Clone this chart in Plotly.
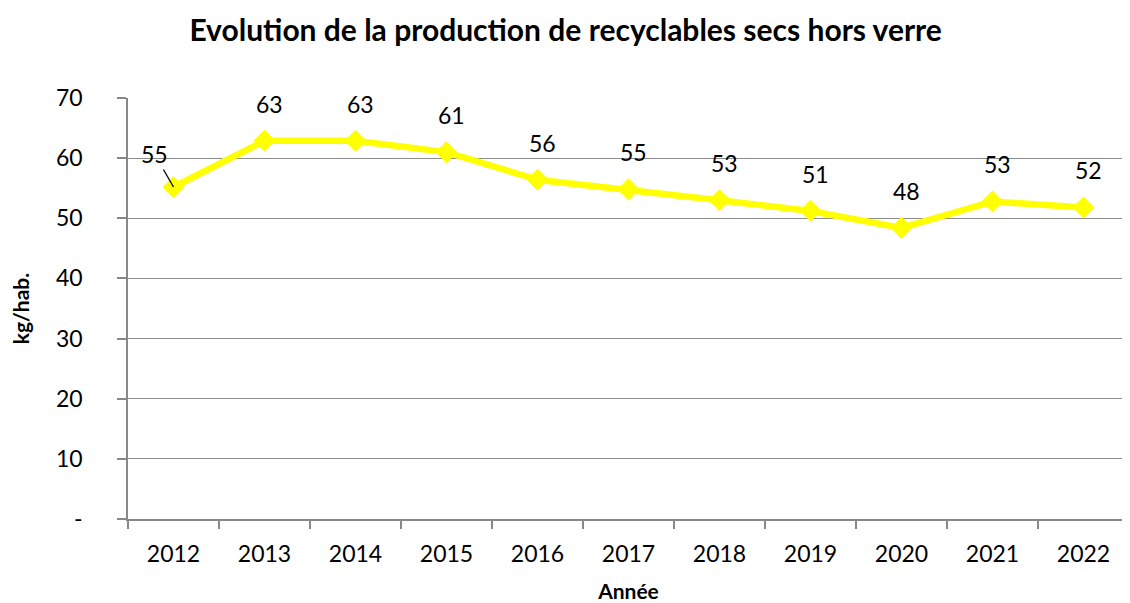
import plotly.graph_objects as go

years = ["2012", "2013", "2014", "2015", "2016", "2017", "2018", "2019", "2020", "2021", "2022"]
values = [55.2, 62.9, 62.9, 61.0, 56.4, 54.8, 53.0, 51.2, 48.4, 52.8, 51.8]
labels = ["55", "63", "63", "61", "56", "55", "53", "51", "48", "53", "52"]
ytick_vals = [0, 10, 20, 30, 40, 50, 60, 70]
ytick_text = ["-", "10", "20", "30", "40", "50", "60", "70"]

FONT = "Lato, 'Open Sans', sans-serif"
TICK_SIZE = 23

fig = go.Figure()
fig.add_trace(go.Scatter(
    x=years, y=values, mode="lines+markers",
    line=dict(color="#FFFF00", width=6.5),
    marker=dict(symbol="diamond", size=17, color="#FFFF00"),
    showlegend=False, hoverinfo="x+y",
))

annotations = []
for i, (v, lab) in enumerate(zip(values, labels)):
    if i == 0:
        annotations.append(dict(x=i, y=v, xref="x", yref="y", text=lab, showarrow=True,
                                arrowhead=0, arrowwidth=1.3, arrowcolor="black",
                                ax=-19, ay=-33, standoff=0,
                                font=dict(family=FONT, size=TICK_SIZE, color="black")))
    else:
        annotations.append(dict(x=i, y=v, xref="x", yref="y", text=lab, showarrow=False,
                                xshift=5, yshift=37,
                                font=dict(family=FONT, size=TICK_SIZE, color="black")))

fig.update_layout(
    width=1122, height=595,
    margin=dict(l=120, r=1, t=90, b=84),
    paper_bgcolor="white", plot_bgcolor="white",
    font=dict(family=FONT, size=TICK_SIZE, color="black"),
    title=dict(text="<b>Evolution de la production de recyclables secs hors verre</b>",
               x=0.497, xref="container", xanchor="center",
               y=0.962, yref="container", yanchor="middle",
               font=dict(family=FONT, size=30, color="black")),
    annotations=annotations,
    xaxis=dict(
        type="category", range=[-0.5, 10.5],
        showline=True, linecolor="#888888", linewidth=1.5,
        ticks="outside", tickson="boundaries", ticklen=8, tickcolor="#888888", tickwidth=1.5,
        showgrid=False, ticklabelstandoff=14,
        tickfont=dict(family=FONT, size=TICK_SIZE),
        title=dict(text="<b>Année</b>", font=dict(family=FONT, size=21), standoff=20),
    ),
    yaxis=dict(
        range=[0, 70], tickvals=ytick_vals, ticktext=ytick_text,
        showline=True, linecolor="#888888", linewidth=1.5,
        ticks="outside", ticklen=9, tickcolor="#888888", tickwidth=1.5,
        showgrid=True, gridcolor="#8c8c8c", gridwidth=1,
        zeroline=False, ticklabelstandoff=30,
        tickfont=dict(family=FONT, size=TICK_SIZE),
        title=dict(text="<b>kg/hab.</b>", font=dict(family=FONT, size=21), standoff=22),
    ),
)

fig.write_html("out.html")
